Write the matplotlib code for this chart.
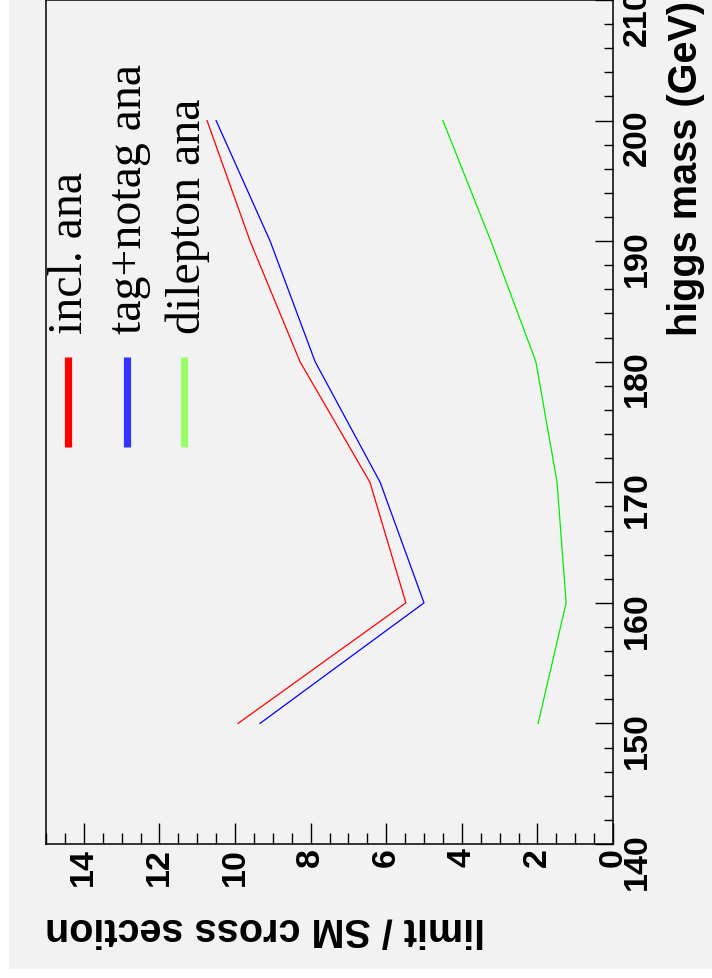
import matplotlib
matplotlib.use("Agg")
import matplotlib.pyplot as plt
from matplotlib.patches import Rectangle
from matplotlib.lines import Line2D
from matplotlib.ticker import MultipleLocator

# higgs mass points (GeV) and limit / SM cross section per analysis
mass = [150, 160, 170, 180, 190, 200]
incl_ana = [9.92, 5.48, 6.43, 8.28, 9.60, 10.74]
tagnotag_ana = [9.34, 5.00, 6.16, 7.88, 9.07, 10.50]
dilepton_ana = [1.98, 1.24, 1.48, 2.04, 3.23, 4.50]

legend_labels = ["incl. ana", "tag+notag ana", "dilepton ana"]
line_colors = ["#ff0000", "#0000ff", "#00ee00"]
legend_colors = ["#ff0000", "#3333ff", "#99ff66"]

W, H = 712, 979
BG = "#f2f2f2"


def px(x, y):
    # image pixel (from top-left) -> figure fraction
    return x / W, 1 - y / H


def main():
    plt.rcParams["font.family"] = ["Liberation Sans", "DejaVu Sans"]
    fig = plt.figure(figsize=(W / 100, H / 100), dpi=100, facecolor="white")
    fig.patches.append(Rectangle((9 / W, 9 / H), 1 - 9 / W, 1 - 9 / H,
                                 transform=fig.transFigure, facecolor=BG,
                                 edgecolor="none", zorder=-5))

    # rotated ROOT canvas: mass runs upward, limit runs leftward
    left, right = px(46, 0)[0], px(613, 0)[0]
    bottom, top = px(0, 845)[1], px(0, 1)[1]
    ax = fig.add_axes([left, bottom, right - left, top - bottom], facecolor=BG)

    for vals, col in zip([incl_ana, tagnotag_ana, dilepton_ana], line_colors):
        ax.plot(vals, mass, color=col, lw=0.9)

    ax.set_xlim(15, 0)
    ax.set_ylim(140, 210)
    for sp in ax.spines.values():
        sp.set_linewidth(1.1)
        sp.set_color("black")

    ax.xaxis.set_major_locator(MultipleLocator(2))
    ax.xaxis.set_minor_locator(MultipleLocator(0.5))
    ax.yaxis.set_major_locator(MultipleLocator(10))
    ax.yaxis.set_minor_locator(MultipleLocator(2))

    ax.tick_params(axis="x", which="both", direction="in", bottom=True, top=False,
                   labelrotation=90, labelsize=24.5, pad=2.5, width=1)
    ax.tick_params(axis="x", which="major", length=15)
    ax.tick_params(axis="x", which="minor", length=8)
    ax.tick_params(axis="y", which="both", direction="in", left=False, right=True,
                   labelleft=False, labelright=True, labelrotation=90,
                   labelsize=24.5, pad=6.5, width=1)
    ax.tick_params(axis="y", which="major", length=13)
    ax.tick_params(axis="y", which="minor", length=6.5)
    for lab in ax.get_xticklabels() + ax.get_yticklabels():
        lab.set_fontweight("bold")

    # axis titles
    fig.text(*px(45, 929), "limit / SM cross section", rotation=180,
             ha="left", va="center", fontsize=28.5, fontweight="bold")
    fig.text(*px(686, 1), "higgs mass (GeV)", rotation=90,
             ha="center", va="top", fontsize=28.5, fontweight="bold")

    # legend drawn by hand, rotated like the rest of the canvas
    baselines = [82, 141, 200]
    marker_x = [67.5, 126.5, 183.5]
    for lab, col, bx, mx in zip(legend_labels, legend_colors, baselines, marker_x):
        x0, y0 = px(mx, 358)
        x1, y1 = px(mx, 448)
        fig.lines.append(Line2D([x0, x1], [y0, y1], transform=fig.transFigure,
                                color=col, lw=5.2, solid_capstyle="butt"))
        fig.text(*px(bx, 334), lab, rotation=90, rotation_mode="anchor",
                 ha="left", va="baseline", fontsize=34.5,
                 family=["Liberation Serif", "DejaVu Serif"])

    fig.savefig("out.png", dpi=100, facecolor="white")


if __name__ == "__main__":
    main()
